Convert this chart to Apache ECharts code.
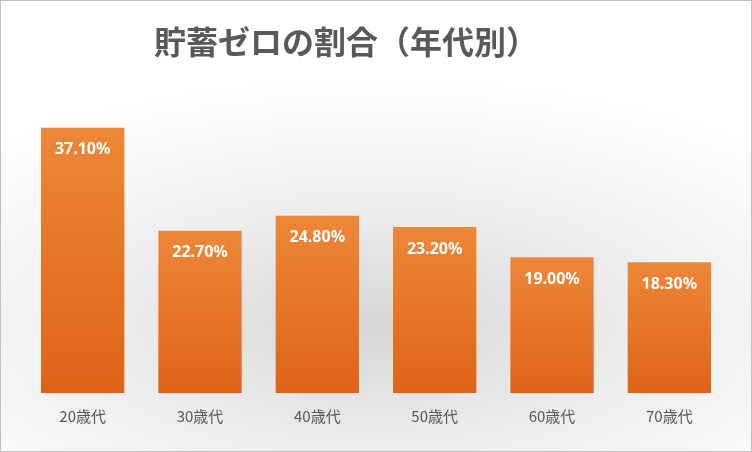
<!DOCTYPE html>
<html><head><meta charset="utf-8">
<script src="https://cdn.jsdelivr.net/npm/echarts@6/dist/echarts.min.js"></script>
<style>
html,body{margin:0;padding:0;}
#c{width:750px;height:450px;border:1px solid #bfbfbf;
background:radial-gradient(ellipse 75% 55% at 50% 72%, #d6d6d6 0%, #ececec 45%, #ffffff 100%);}
</style></head>
<body><div id="c"></div>
<script>
var categories = ['20歳代', '30歳代', '40歳代', '50歳代', '60歳代', '70歳代'];
var values = [37.1, 22.7, 24.8, 23.2, 19.0, 18.3];

var chart = echarts.init(document.getElementById('c'));
chart.setOption({
  title: {
    text: '貯蓄ゼロの割合（年代別）',
    left: 148, top: 20,
    textStyle: {fontFamily: 'Noto Sans CJK JP', fontSize: 32, fontWeight: 'bold', color: '#595959'}
  },
  grid: {left: 23, right: 23, top: 106, bottom: 58},
  xAxis: {
    type: 'category', data: categories,
    axisLine: {show: false}, axisTick: {show: false},
    axisLabel: {color: '#595959', fontSize: 15, margin: 16, fontFamily: 'Noto Sans CJK JP'}
  },
  yAxis: {type: 'value', min: 0, max: 40, show: false},
  series: [{
    type: 'bar', data: values, barWidth: '71%',
    itemStyle: {
      color: new echarts.graphic.LinearGradient(0, 0, 0, 1, [
        {offset: 0, color: '#ee8738'}, {offset: 1, color: '#de6318'}
      ])
    },
    label: {
      show: true, position: 'insideTop', distance: 14,
      color: '#fff', fontWeight: 'bold', fontSize: 16, fontFamily: 'Noto Sans',
      formatter: function (p) { return p.value.toFixed(2) + '%'; }
    }
  }]
});
</script></body></html>
